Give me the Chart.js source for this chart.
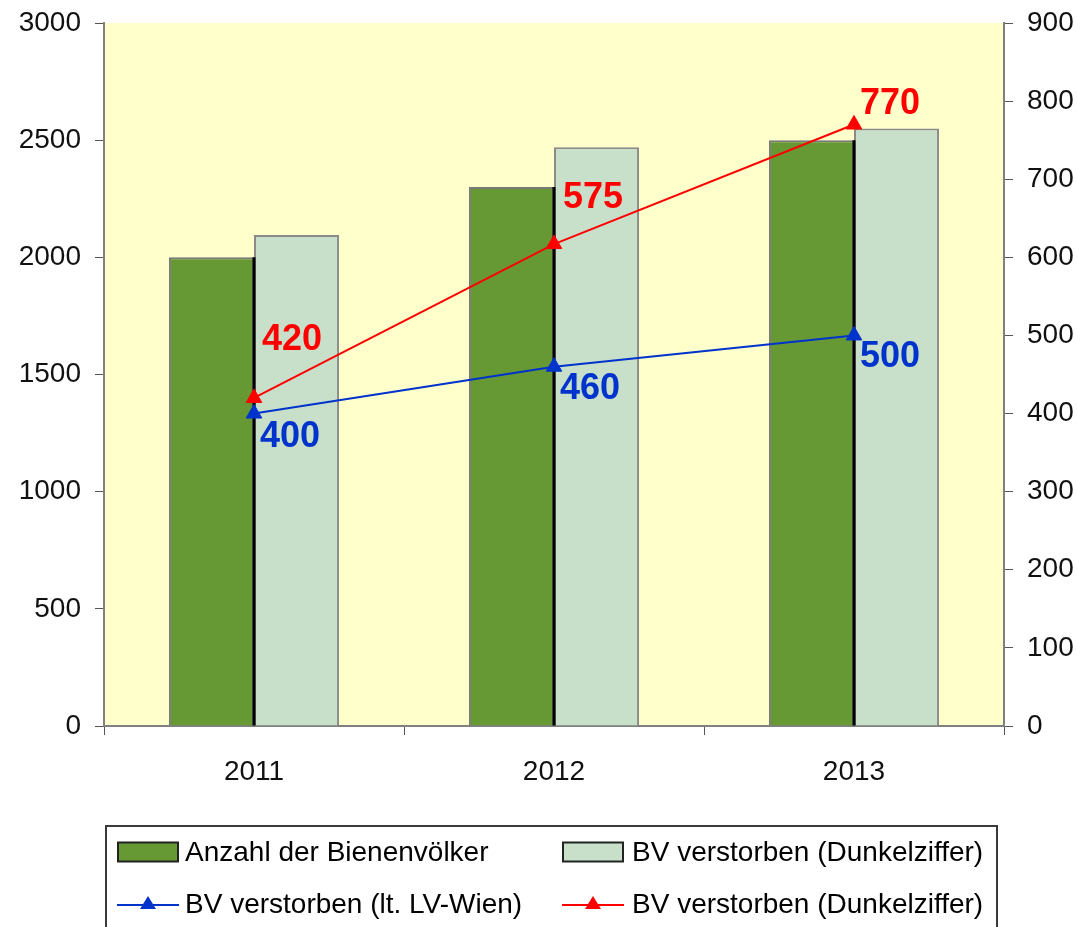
<!DOCTYPE html>
<html>
<head>
<meta charset="utf-8">
<script src="https://cdn.jsdelivr.net/npm/chart.js@4"></script>
<style>
html,body{margin:0;padding:0;background:#fff;width:1077px;height:927px;overflow:hidden;font-family:"Liberation Sans",Arial,sans-serif;}
#wrap{position:relative;width:1077px;height:927px;}
#c{position:absolute;left:0;top:0;}
#legendBox{position:absolute;left:105px;top:825px;width:893px;height:130px;border:2px solid #3a3a3a;box-sizing:border-box;}
.sym{position:absolute;}
.txt{position:absolute;font-size:28px;line-height:32px;color:#000;white-space:nowrap;}
</style>
</head>
<body>
<div id="wrap">
<canvas id="c" width="1077" height="927"></canvas>
<div id="legendBox"></div>
</div>
<script>
// ---- data ----
const categories = ['2011', '2012', '2013'];
const seriesNames = [
  'Anzahl der Bienenvölker',
  'BV verstorben (Dunkelziffer)',
  'BV verstorben (lt. LV-Wien)',
  'BV verstorben (Dunkelziffer)'
];
const anzahlVoelker = [2000, 2300, 2500];
const verstorbenDunkelBars = [2095, 2470, 2550];
const verstorbenLvWien = [400, 460, 500];
const verstorbenDunkelLine = [420, 617, 770];
const lvWienLabels = ['400', '460', '500'];
const dunkelLineLabels = ['420', '575', '770'];
const leftTicks = [0, 500, 1000, 1500, 2000, 2500, 3000];
const rightTicks = [0, 100, 200, 300, 400, 500, 600, 700, 800, 900];

// ---- styles ----
const DARK_GREEN = '#669933';
const LIGHT_GREEN = '#C8DFCA';
const BLUE = '#0033CC';
const RED = '#FF0000';
const FONT = '"Liberation Sans", Arial, sans-serif';

const bgPlugin = {
  id: 'plotBg',
  beforeDraw(chart) {
    const a = chart.chartArea, ctx = chart.ctx;
    ctx.save();
    ctx.fillStyle = '#FFFFCC';
    ctx.fillRect(a.left, a.top, a.right - a.left, a.bottom - a.top);
    ctx.restore();
  }
};

const edgePlugin = {
  id: 'barEdge',
  afterDatasetDraw(chart, args) {
    if (args.index !== 0) return;
    const ctx = chart.ctx;
    ctx.save();
    ctx.strokeStyle = '#000';
    ctx.lineWidth = 3;
    args.meta.data.forEach(el => {
      const x = el.x + el.width / 2;
      ctx.beginPath();
      ctx.moveTo(x, el.y);
      ctx.lineTo(x, el.base);
      ctx.stroke();
    });
    ctx.restore();
  }
};

const labelPlugin = {
  id: 'valLabels',
  afterDatasetsDraw(chart, args, opts) {
    const ctx = chart.ctx;
    ctx.save();
    ctx.font = 'bold 36px ' + FONT;
    ctx.textAlign = 'left';
    ctx.textBaseline = 'middle';
    opts.sets.forEach(s => {
      const meta = chart.getDatasetMeta(s.index);
      ctx.fillStyle = s.color;
      meta.data.forEach((el, i) => {
        ctx.fillText(s.texts[i], el.x + s.dx[i], el.y + s.dy[i]);
      });
    });
    ctx.restore();
  }
};

const tickFont = { family: FONT, size: 28 };
const plain = v => String(v);

new Chart(document.getElementById('c'), {
  type: 'bar',
  data: {
    labels: categories,
    datasets: [
      {
        type: 'bar', label: seriesNames[0], data: anzahlVoelker, yAxisID: 'y',
        backgroundColor: DARK_GREEN, borderColor: '#7a7a7a', borderWidth: 2,
        barPercentage: 1, categoryPercentage: 0.567, order: 2
      },
      {
        type: 'bar', label: seriesNames[1], data: verstorbenDunkelBars, yAxisID: 'y',
        backgroundColor: LIGHT_GREEN, borderColor: '#8a8a8a', borderWidth: 2,
        barPercentage: 1, categoryPercentage: 0.567, order: 2
      },
      {
        type: 'line', label: seriesNames[2], data: verstorbenLvWien, yAxisID: 'y1',
        borderColor: BLUE, backgroundColor: BLUE, borderWidth: 2,
        pointStyle: 'triangle', pointRadius: 9, pointBackgroundColor: BLUE, pointBorderColor: BLUE,
        pointBorderWidth: 1, tension: 0, order: 0
      },
      {
        type: 'line', label: seriesNames[3], data: verstorbenDunkelLine, yAxisID: 'y1',
        borderColor: RED, backgroundColor: RED, borderWidth: 2,
        pointStyle: 'triangle', pointRadius: 9, pointBackgroundColor: RED, pointBorderColor: RED,
        pointBorderWidth: 1, tension: 0, order: 0
      }
    ]
  },
  options: {
    responsive: false,
    animation: false,
    events: [],
    layout: { padding: { top: 23, left: 0, right: 0, bottom: 0 } },
    plugins: {
      legend: { display: false },
      tooltip: { enabled: false },
      valLabels: {
        sets: [
          { index: 2, color: BLUE, texts: lvWienLabels, dx: [6, 6, 6], dy: [24, 22, 22] },
          { index: 3, color: RED, texts: dunkelLineLabels, dx: [8, 9, 6], dy: [-58, -46, -20] }
        ]
      }
    },
    scales: {
      x: {
        type: 'category',
        offset: true,
        grid: { display: true, offset: true, drawOnChartArea: false, drawTicks: true, tickLength: 9, color: '#555', lineWidth: 1 },
        border: { display: true, color: '#808080', width: 2 },
        ticks: { font: tickFont, color: '#111', padding: 20 },
        afterFit(s) { s.height = 201; s.paddingLeft = 0; s.paddingRight = 0; }
      },
      y: {
        position: 'left', min: leftTicks[0], max: leftTicks[leftTicks.length - 1],
        afterBuildTicks(s) { s.ticks = leftTicks.map(v => ({ value: v })); },
        grid: { drawOnChartArea: false, drawTicks: true, tickLength: 9, color: '#555' },
        border: { display: true, color: '#808080', width: 2 },
        ticks: { font: tickFont, color: '#111', padding: 14, callback: plain },
        afterFit(s) { s.width = 104; s.paddingTop = 0; s.paddingBottom = 0; }
      },
      y1: {
        position: 'right', min: rightTicks[0], max: rightTicks[rightTicks.length - 1],
        afterBuildTicks(s) { s.ticks = rightTicks.map(v => ({ value: v })); },
        grid: { drawOnChartArea: false, drawTicks: true, tickLength: 9, color: '#555' },
        border: { display: true, color: '#808080', width: 2 },
        ticks: { font: tickFont, color: '#111', padding: 14, callback: plain },
        afterFit(s) { s.width = 73; s.paddingTop = 0; s.paddingBottom = 0; }
      }
    }
  },
  plugins: [bgPlugin, edgePlugin, labelPlugin]
});

// ---- legend (HTML, built from the series names) ----
const wrap = document.getElementById('wrap');
const legendItems = [
  { name: seriesNames[0], kind: 'box', color: DARK_GREEN, sx: 117, tx: 185, cy: 852 },
  { name: seriesNames[1], kind: 'box', color: LIGHT_GREEN, sx: 562, tx: 632, cy: 852 },
  { name: seriesNames[2], kind: 'line', color: BLUE, sx: 117, tx: 185, cy: 904 },
  { name: seriesNames[3], kind: 'line', color: RED, sx: 562, tx: 632, cy: 904 }
];
legendItems.forEach(it => {
  const svgNS = 'http://www.w3.org/2000/svg';
  const svg = document.createElementNS(svgNS, 'svg');
  svg.setAttribute('width', '62');
  svg.setAttribute('height', '24');
  svg.setAttribute('class', 'sym');
  svg.style.left = it.sx + 'px';
  svg.style.top = (it.cy - 12) + 'px';
  if (it.kind === 'box') {
    const r = document.createElementNS(svgNS, 'rect');
    r.setAttribute('x', '1'); r.setAttribute('y', '2.5');
    r.setAttribute('width', '60'); r.setAttribute('height', '19');
    r.setAttribute('fill', it.color); r.setAttribute('stroke', '#222'); r.setAttribute('stroke-width', '2');
    svg.appendChild(r);
  } else {
    const l = document.createElementNS(svgNS, 'line');
    l.setAttribute('x1', '0'); l.setAttribute('x2', '62');
    l.setAttribute('y1', '13'); l.setAttribute('y2', '13');
    l.setAttribute('stroke', it.color); l.setAttribute('stroke-width', '2');
    svg.appendChild(l);
    const p = document.createElementNS(svgNS, 'polygon');
    p.setAttribute('points', '31,4 39,17 23,17');
    p.setAttribute('fill', it.color);
    svg.appendChild(p);
  }
  wrap.appendChild(svg);
  const t = document.createElement('div');
  t.className = 'txt';
  t.textContent = it.name;
  t.style.left = it.tx + 'px';
  t.style.top = (it.cy - 16) + 'px';
  wrap.appendChild(t);
});
</script>
</body>
</html>
